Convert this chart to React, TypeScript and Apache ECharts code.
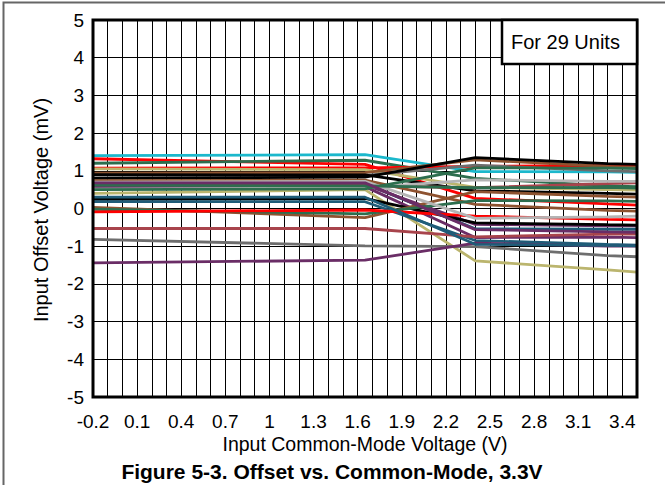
import React, { useEffect, useRef } from "react";
import * as echarts from "echarts";

// ---- data ----
const xValues = [-0.2, 1.65, 2.4, 3.3, 3.5]; // input common-mode voltage (V)
const xTickLabels = ["-0.2", "0.1", "0.4", "0.7", "1", "1.3", "1.6", "1.9", "2.2", "2.5", "2.8", "3.1", "3.4"];
const yTickLabels = ["-5", "-4", "-3", "-2", "-1", "0", "1", "2", "3", "4", "5"];
// input offset voltage (mV) of each of the 29 units at xValues
const offsetByUnit = [
  [1.40, 1.43, 0.98, 0.97, 0.96],
  [1.32, 1.17, 0.27, 0.12, 0.09],
  [1.20, 1.28, 0.80, 0.60, 0.58],
  [1.07, 1.08, 1.12, 1.14, 1.15],
  [1.05, 1.03, 0.56, 0.50, 0.49],
  [0.94, 0.95, 1.29, 1.12, 1.09],
  [0.88, 0.88, 1.15, 1.00, 0.98],
  [0.80, 0.83, 1.35, 1.19, 1.17],
  [0.90, 0.89, 0.47, 0.40, 0.38],
  [0.74, 0.75, 0.11, -0.05, -0.07],
  [0.66, 0.66, -0.54, -0.55, -0.55],
  [0.60, 0.63, -0.42, -0.46, -0.46],
  [0.62, 0.60, 0.55, 0.66, 0.68],
  [0.56, 0.58, -0.77, -0.76, -0.77],
  [0.51, 0.55, 0.76, 0.72, 0.72],
  [0.40, 0.50, -1.39, -1.63, -1.69],
  [0.50, 0.52, 1.08, 1.07, 1.06],
  [0.24, 0.27, -0.38, -0.43, -0.44],
  [0.18, 0.18, -0.85, -0.95, -0.97],
  [0.03, -0.24, 0.45, 0.32, 0.30],
  [-0.02, -0.14, 0.21, 0.20, 0.19],
  [-0.09, -0.04, -0.20, -0.29, -0.30],
  [-0.53, -0.53, -0.75, -0.68, -0.68],
  [-0.82, -0.99, -1.01, -1.25, -1.28],
  [-1.44, -1.37, -0.92, -1.00, -1.00],
  [0.70, 0.72, -0.26, -0.22, -0.20],
  [0.62, 0.60, 0.55, 0.56, 0.54],
  [0.68, 0.68, -0.56, -0.62, -0.63],
  [0.30, 0.30, -0.95, -0.98, -0.99],
];
const xAxisMin = -0.2;
const xAxisMax = 3.5;
const xTitle = "Input Common-Mode Voltage (V)";
const yTitle = "Input Offset Voltage (mV)";
const caption = "Figure 5-3. Offset vs. Common-Mode, 3.3V";
const legendNote = "For 29 Units";

// ---- styles ----
const CYAN = "#1bb8cc";
const RED = "#ff0000";
const GREEN = "#2d6e4e";
const KHAKI = "#bbb56e";
const BROWN = "#8e5330";
const GRAY = "#6e6e6e";
const SILVER = "#b4b4b4";
const BLACK = "#000000";
const TEAL = "#1f5c78";
const PURPLE = "#6a2d66";
const ROSY = "#a8444c";
const unitColors = [
  CYAN, RED, GREEN, RED, KHAKI, BROWN, GRAY, BLACK, BLACK, BROWN,
  TEAL, PURPLE, ROSY, PURPLE, SILVER, KHAKI, GREEN, BLACK, TEAL, BROWN,
  GREEN, RED, ROSY, GRAY, PURPLE, SILVER, GREEN, PURPLE, TEAL,
];
const FONT = 'Arial, "Liberation Sans", sans-serif';

export default function App() {
  const ref = useRef<HTMLDivElement>(null);
  useEffect(() => {
    if (!ref.current) return;
    const chart = echarts.init(ref.current, null, { renderer: "svg" });
    const shift = -xAxisMin; // axis runs from 0 so tick labels start at -0.2
    const span = Math.round((xAxisMax - xAxisMin) * 10) / 10;
    const series = offsetByUnit.map((vals, i) => ({
      type: "line",
      name: "Unit " + (i + 1),
      xAxisIndex: 0,
      yAxisIndex: 0,
      symbol: "none",
      silent: true,
      lineStyle: { width: 2.8, color: unitColors[i] },
      itemStyle: { color: unitColors[i] },
      data: vals.map((v, j) => [Math.round((xValues[j] + shift) * 1000) / 1000, v]),
      z: 3,
    }));
    chart.setOption({
      animation: false,
      backgroundColor: "#ffffff",
      grid: {
        left: 93,
        right: 28,
        top: 20,
        bottom: 88,
        show: true,
        borderColor: "#000",
        borderWidth: 3,
        backgroundColor: "transparent",
        z: 4,
      },
      xAxis: [
        {
          type: "value",
          min: 0,
          max: span,
          interval: 0.3,
          axisLine: { show: false },
          axisTick: { show: false },
          splitLine: { show: false },
          axisLabel: {
            show: true,
            showMaxLabel: false,
            margin: 15,
            color: "#000",
            fontSize: 19,
            fontFamily: FONT,
            formatter: (v: number) => {
              const idx = Math.round(v / 0.3);
              return xTickLabels[idx] ?? "";
            },
          },
        },
        {
          type: "value",
          min: 0,
          max: span,
          interval: 0.1,
          position: "bottom",
          axisLine: { show: false },
          axisTick: { show: false },
          axisLabel: { show: false },
          splitLine: { show: true, lineStyle: { color: "#000", width: 1 } },
        },
      ],
      yAxis: {
        type: "value",
        min: -5,
        max: 5,
        interval: 1,
        axisLine: { show: false },
        axisTick: { show: false },
        splitLine: { show: true, lineStyle: { color: "#000", width: 1 } },
        axisLabel: {
          margin: 9,
          color: "#000",
          fontSize: 19,
          fontFamily: FONT,
          formatter: (v: number) => yTickLabels[Math.round(v + 5)] ?? "",
        },
      },
      graphic: [
        {
          type: "polyline",
          shape: { points: [[3.5, 485], [3.5, 2.5], [665, 2.5]] },
          style: { stroke: "#666", lineWidth: 2, fill: null },
          silent: true,
        },
        {
          type: "rect",
          shape: { x: 502, y: 20, width: 135, height: 44 },
          style: { fill: "#fff", stroke: "#000", lineWidth: 2.5 },
          z: 10,
        },
        {
          type: "text",
          x: 511,
          y: 42,
          style: { text: legendNote, fontSize: 20, fontFamily: FONT, fill: "#000", align: "left", verticalAlign: "middle" },
          z: 11,
        },
        {
          type: "text",
          x: 41,
          y: 210,
          rotation: Math.PI / 2,
          style: { text: yTitle, fontSize: 20, fontFamily: FONT, fill: "#000", align: "center", verticalAlign: "middle" },
        },
        {
          type: "text",
          x: 365,
          y: 444,
          style: { text: xTitle, fontSize: 19.5, fontFamily: FONT, fill: "#000", align: "center", verticalAlign: "middle" },
        },
        {
          type: "text",
          x: 332,
          y: 471,
          style: { text: caption, fontSize: 21, fontWeight: "bold", fontFamily: FONT, fill: "#000", align: "center", verticalAlign: "middle" },
        },
      ],
      series,
    });
    return () => chart.dispose();
  }, []);
  return (
    <div
      ref={ref}
      style={{ position: "fixed", left: 0, top: 0, width: 665, height: 485, background: "#fff" }}
    />
  );
}
